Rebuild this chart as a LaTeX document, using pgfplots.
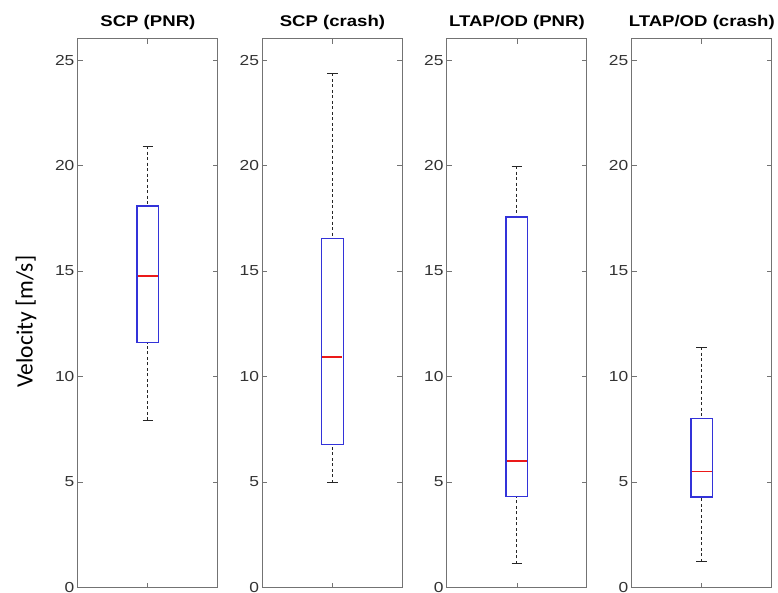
\documentclass[border=0pt]{standalone}
\usepackage{pgfplots}
\pgfplotsset{compat=1.18}
\usepgfplotslibrary{statistics}
\usetikzlibrary{calc}
\usepackage{fontspec}
\setmainfont{Liberation Sans}[FakeStretch=1.2]
\newfontfamily\labfont{Carlito}
\definecolor{axgray}{rgb}{0.45,0.45,0.45}
\definecolor{txtgray}{rgb}{0.2,0.2,0.2}
\definecolor{boxblue}{rgb}{0.2,0.2,0.85}
\definecolor{medred}{rgb}{0.92,0.1,0.1}
\pgfplotsset{
  mybox/.style={
    scale only axis, width=140pt, height=549pt,
    xmin=0.5, xmax=1.5, ymin=0, ymax=26,
    ytick={0,5,10,15,20,25},
    xtick={1}, xticklabels={},
    tick align=inside, major tick length=5pt,
    xtick pos=both, ytick pos=both,
    axis line style={axgray, line width=1pt},
    every tick/.style={axgray, line width=0.8pt},
    tick label style={font=\fontsize{14.5}{16}\selectfont, text=txtgray},
    /pgf/number format/assume math mode=true,
    title style={font=\fontsize{15.5}{18}\selectfont\bfseries, text=black},
    boxplot/draw direction=y,
    boxplot/box extend=0.155,
    boxplot/whisker extend=0.076,
    boxplot/draw/box/.code={%
      \draw[draw=boxblue, line width=1.3pt]
        (boxplot box cs:\pgfplotsboxplotvalue{lower quartile},0) rectangle
        (boxplot box cs:\pgfplotsboxplotvalue{upper quartile},1);
    },
    boxplot/draw/median/.code={%
      \draw[draw=medred, line width=1.5pt]
        (boxplot box cs:\pgfplotsboxplotvalue{median},0.04) --
        (boxplot box cs:\pgfplotsboxplotvalue{median},0.96);
    },
    boxplot/draw/lower whisker/.code={%
      \draw[black!85, line width=1pt, dash pattern=on 3pt off 2.5pt]
        (boxplot whisker cs:\pgfplotsboxplotvalue{lower whisker},0.5) --
        (boxplot whisker cs:\pgfplotsboxplotvalue{lower quartile},0.5);
      \draw[black!85, line width=1pt]
        (boxplot whisker cs:\pgfplotsboxplotvalue{lower whisker},0) --
        (boxplot whisker cs:\pgfplotsboxplotvalue{lower whisker},1);
    },
    boxplot/draw/upper whisker/.code={%
      \draw[black!85, line width=1pt, dash pattern=on 3pt off 2.5pt]
        (boxplot whisker cs:\pgfplotsboxplotvalue{upper whisker},0.5) --
        (boxplot whisker cs:\pgfplotsboxplotvalue{upper quartile},0.5);
      \draw[black!85, line width=1pt]
        (boxplot whisker cs:\pgfplotsboxplotvalue{upper whisker},0) --
        (boxplot whisker cs:\pgfplotsboxplotvalue{upper whisker},1);
    },
  }
}
\begin{document}
\begin{tikzpicture}
\begin{axis}[mybox, name=a1, at={(0,0)}, anchor=south west,
  title={SCP (PNR)},
  ylabel={\labfont\fontsize{23.5}{26}\selectfont Velocity [m/s]},
  ylabel style={at={(rel axis cs:0,0.485)}, rotate=0, anchor=center, yshift=52pt, text=black}]
\addplot[boxplot prepared={draw position=1,
  lower whisker=7.92, lower quartile=11.61, median=14.77,
  upper quartile=18.09, upper whisker=20.92}] coordinates {};
\end{axis}
\begin{axis}[mybox, name=a2, at={(184.7pt,0)}, anchor=south west,
  title={SCP (crash)}]
\addplot[boxplot prepared={draw position=1,
  lower whisker=4.97, lower quartile=6.78, median=10.93,
  upper quartile=16.53, upper whisker=24.37}] coordinates {};
\end{axis}
\begin{axis}[mybox, name=a3, at={(369.3pt,0)}, anchor=south west,
  title={LTAP/OD (PNR)}]
\addplot[boxplot prepared={draw position=1,
  lower whisker=1.12, lower quartile=4.32, median=5.99,
  upper quartile=17.56, upper whisker=19.97}] coordinates {};
\end{axis}
\begin{axis}[mybox, name=a4, at={(554.3pt,0)}, anchor=south west,
  title={LTAP/OD (crash)}]
\addplot[boxplot prepared={draw position=1,
  lower whisker=1.23, lower quartile=4.29, median=5.50,
  upper quartile=8.01, upper whisker=11.39}] coordinates {};
\end{axis}
\pgfresetboundingbox
\useasboundingbox ($(a1.south west)+(-78pt,-5pt)$) rectangle ($(a4.north east)+(6.3pt,39pt)$);
\end{tikzpicture}
\end{document}
